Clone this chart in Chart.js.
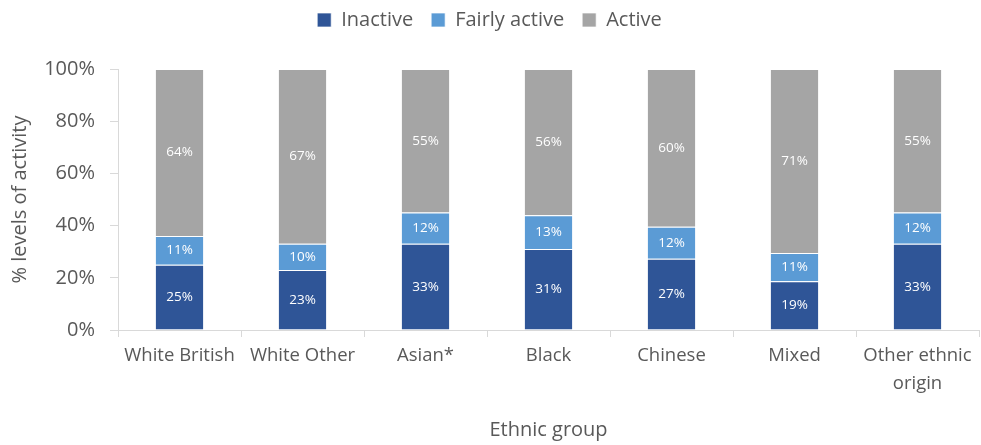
<!DOCTYPE html>
<html>
<head>
<meta charset="utf-8">
<script src="https://cdn.jsdelivr.net/npm/chart.js@4.4.1/dist/chart.umd.min.js"></script>
<style>
	html, body { margin: 0; padding: 0; background: #fff; }
	#wrap { width: 981px; height: 445px; position: relative; }
</style>
</head>
<body>
<div id="wrap"><canvas id="chart"></canvas></div>
<script>
var groups = ['White British', 'White Other', 'Asian*', 'Black', 'Chinese', 'Mixed', ['Other ethnic', 'origin']];
var inactive = [25, 23, 33, 31, 27.3, 18.7, 33];
var fairlyActive = [11, 10, 12, 13, 12.3, 10.8, 12];
var active = [64, 67, 55, 56, 60.4, 70.5, 55];

var textColor = '#595959';
var lineColor = '#d9d9d9';
var fontFamily = '"Open Sans", sans-serif';

// white % labels in the middle of every segment
var segmentLabels = {
	id: 'segmentLabels',
	afterDatasetsDraw: function(chart) {
		var ctx = chart.ctx;
		ctx.save();
		ctx.fillStyle = '#ffffff';
		ctx.font = '13.5px ' + fontFamily;
		ctx.textAlign = 'center';
		ctx.textBaseline = 'middle';
		chart.data.datasets.forEach(function(ds, i) {
			var meta = chart.getDatasetMeta(i);
			meta.data.forEach(function(bar, j) {
				var v = ds.data[j];
				ctx.fillText(Math.round(v) + '%', bar.x, (bar.y + bar.base) / 2);
			});
		});
		ctx.restore();
	}
};

// fixed legend height so the plot starts where the original does,
// and legend drawn a bit higher up
var legendHeight = {
	id: 'legendHeight',
	beforeInit: function(chart) {
		var legend = chart.legend;
		var fit = legend.fit;
		var draw = legend.draw;
		legend.fit = function() {
			fit.bind(legend)();
			this.height = 69;
		};
		legend.draw = function() {
			var ctx = chart.ctx;
			ctx.save();
			ctx.translate(0, -8);
			draw.bind(legend)();
			ctx.restore();
		};
	}
};

new Chart(document.getElementById('chart'), {
	type: 'bar',
	data: {
		labels: groups,
		datasets: [
			{label: 'Inactive', data: inactive, backgroundColor: '#2F5597'},
			{label: 'Fairly active', data: fairlyActive, backgroundColor: '#5B9BD5'},
			{label: 'Active', data: active, backgroundColor: '#A5A5A5'}
		]
	},
	options: {
		responsive: true,
		maintainAspectRatio: false,
		animation: false,
		datasets: {
			bar: {
				barPercentage: 0.4,
				categoryPercentage: 1,
				borderWidth: 1,
				borderColor: 'rgba(255,255,255,0.7)'
			}
		},
		layout: {padding: {top: 0, right: 2, bottom: 0, left: 0}},
		plugins: {
			tooltip: {enabled: false},
			legend: {
				position: 'top',
				labels: {
					color: textColor,
					font: {family: fontFamily, size: 20},
					boxWidth: 14,
					boxHeight: 14,
					padding: 18
				}
			}
		},
		scales: {
			x: {
				stacked: true,
				afterFit: function(scale) { scale.height = 115; },
				border: {color: lineColor},
				grid: {offset: true, drawOnChartArea: false, tickLength: 7, color: lineColor},
				ticks: {
					color: textColor,
					font: {family: fontFamily, size: 18.5, lineHeight: 1.55},
					padding: 4,
					maxRotation: 0,
					autoSkip: false
				},
				title: {
					display: true,
					text: 'Ethnic group',
					color: textColor,
					font: {family: fontFamily, size: 20},
					padding: {top: 4, bottom: 3}
				}
			},
			y: {
				stacked: true,
				min: 0,
				max: 100,
				afterFit: function(scale) { scale.width = 118; },
				border: {color: lineColor},
				grid: {drawOnChartArea: false, tickLength: 8, color: lineColor},
				ticks: {
					stepSize: 20,
					color: textColor,
					font: {family: fontFamily, size: 20},
					padding: 15,
					callback: function(v) { return v + '%'; }
				},
				title: {
					display: true,
					text: '% levels of activity',
					color: textColor,
					font: {family: fontFamily, size: 20},
					padding: {top: 8, bottom: 0}
				}
			}
		}
	},
	plugins: [segmentLabels, legendHeight]
});
</script>
</body>
</html>
